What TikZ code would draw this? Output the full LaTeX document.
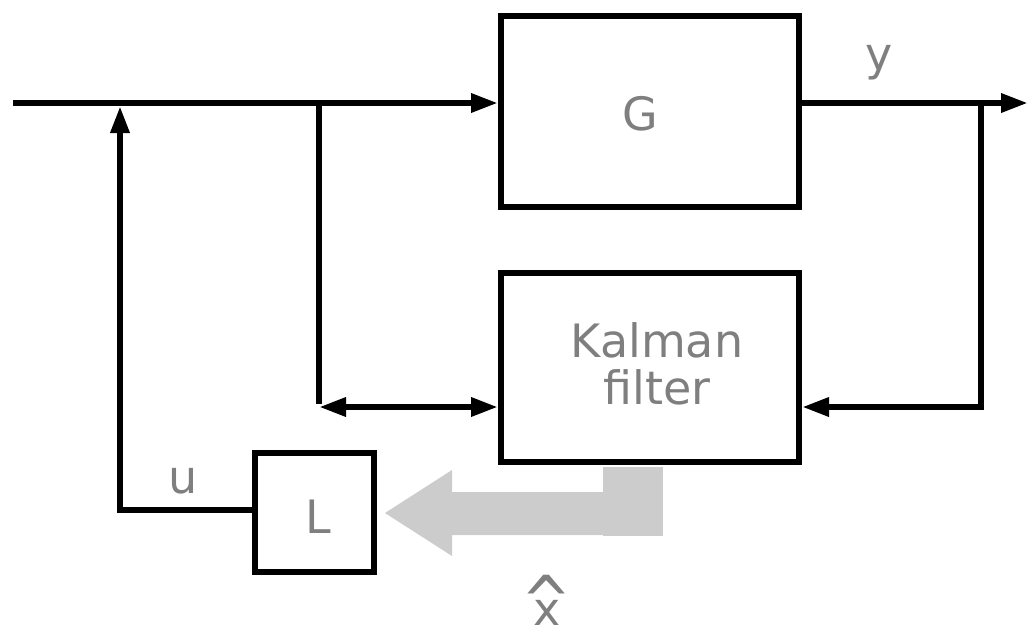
\documentclass[tikz,border=0pt]{standalone}
\usepackage{fontspec}
\setmainfont{DejaVu Sans}
\usetikzlibrary{arrows.meta}
\definecolor{txtgray}{HTML}{7F7F7F}
\definecolor{fatgray}{HTML}{CCCCCC}
\begin{document}
\begin{tikzpicture}[x=1pt,y=-1pt,
  blockbox/.style={draw=black,line width=6.2pt,inner sep=0pt},
  wire/.style={draw=black,line width=6.2pt,line join=miter},
  tipend/.style={-{Triangle[length=27pt,width=18pt]}},
  tipboth/.style={{Triangle[length=27pt,width=18pt]}-{Triangle[length=27pt,width=18pt]}},
  lbl/.style={text=txtgray,font=\fontsize{46}{47}\selectfont,inner sep=0pt,anchor=base}]
\useasboundingbox (0,0) rectangle (1028,630);

% blocks
\node[blockbox,minimum width=297.8pt,minimum height=190.8pt] (G) at (650,111.5) {};
\node[blockbox,minimum width=297.8pt,minimum height=188.8pt] (K) at (650,367.5) {};
\node[blockbox,minimum width=118.8pt,minimum height=118.8pt] (L) at (314.5,512.5) {};

% labels
\node[lbl] (Gt) at (640,130) {G};
\node[lbl] (Kt1) at (657,357) {Kalman};
\node[lbl] (Kt2) at (657,404) {filter};
\node[lbl] (Lt) at (318,533) {L};
\node[lbl] (ut) at (183,493) {u};
\node[lbl] (yt) at (879,70) {y};
\node[lbl,align=center,anchor=south] (xhat) at (547,626)
  {\raisebox{-31pt}[19pt][0pt]{\scalebox{1.3}[1.5]{\textasciicircum}}\\[-16pt]x};

% coordinates
\coordinate (in) at (13,103);
\coordinate (out) at (1028,103);
\coordinate (tl) at (319,99.9);
\coordinate (fl) at (319,407);
\coordinate (tr) at (981,103);
\coordinate (fb) at (981,407);
\coordinate (ul) at (120,510);
\coordinate (uin) at (120,106);

% connectors
\draw[wire,tipend] (in) -- (G.west |- in);
\draw[wire,tipend] (G.east |- out) -- (out);
\draw[wire,tipend] (tr) |- (K.east |- fb);
\draw[wire] (tl) -- ([yshift=3.1pt]fl);
\draw[wire,tipboth] (fl) -- (K.west |- fl);
\draw[wire,tipend] (L.west |- ul) -| (uin);

% fat grey arrow (estimate x-hat)
\fill[fatgray] (603,467) rectangle (663,536);
\fill[fatgray] (604,492) -- (452,492) -- (452,470) -- (385,513) -- (452,556) -- (452,535) -- (604,535) -- cycle;
\end{tikzpicture}
\end{document}
